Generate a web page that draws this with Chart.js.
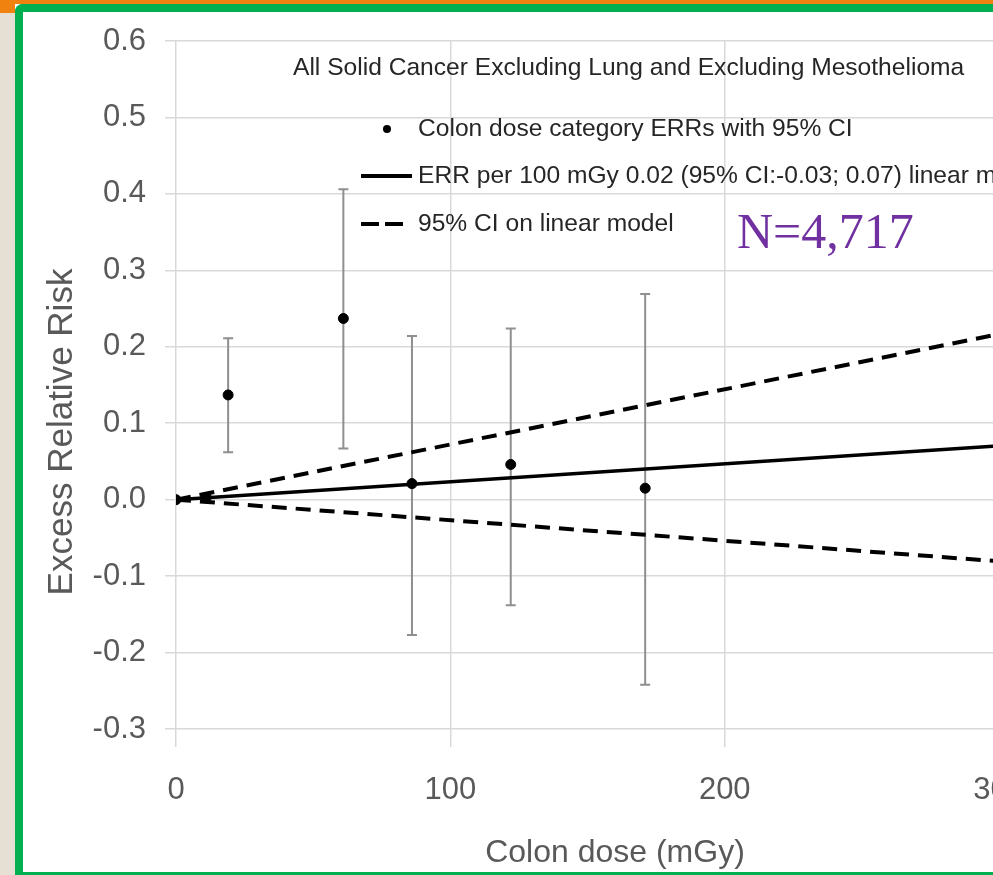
<!DOCTYPE html>
<html lang="en">
<head>
<meta charset="UTF-8">
<title>Excess Relative Risk by Colon dose</title>
<script src="https://cdn.jsdelivr.net/npm/chart.js@4.4.1/dist/chart.umd.min.js"></script>
<style>
  html, body { margin: 0; padding: 0; width: 993px; height: 875px; overflow: hidden; background: #fff; }
  #wrap { position: absolute; left: 0; top: 0; width: 1100px; height: 875px; }
  .band { position: absolute; }
</style>
</head>
<body>
<div id="wrap"><canvas id="errChart" width="1100" height="875"></canvas></div>
<!-- slide frame -->
<div class="band" style="left:0;top:0;width:15px;height:875px;background:#e6dfd4"></div>
<div class="band" style="left:0;top:0;width:993px;height:4px;background:#f0830f"></div>
<div class="band" style="left:0;top:0;width:15px;height:13px;background:#f0830f"></div>
<div class="band" style="left:15px;top:4px;width:1200px;height:860px;border-left:8px solid #00b050;border-top:8px solid #00b050;border-bottom:3px solid #00b050;border-top-left-radius:8px"></div>

<script>
// dose categories (mGy) and their ERRs with 95% CI
const doses = [0, 11, 19, 61, 86, 122, 171];
const errValues = [0, 0.003, 0.137, 0.237, 0.021, 0.046, 0.015];
const ciLower = [null, null, 0.062, 0.067, -0.177, -0.138, -0.242];
const ciUpper = [null, null, 0.211, 0.406, 0.214, 0.224, 0.269];

// linear model and its 95% CI
const modelDoses = [0, 320];
const modelErr = [0, 0.075];
const modelLower = [0, -0.086];
const modelUpper = [0, 0.231];

// axes
const yTicks = [-0.3, -0.2, -0.1, 0, 0.1, 0.2, 0.3, 0.4, 0.5, 0.6];
const xTicks = [0, 100, 200, 300];

const header = 'All Solid Cancer Excluding Lung and Excluding Mesothelioma';
const legendLabels = [
  'Colon dose category ERRs with 95% CI',
  'ERR per 100 mGy 0.02 (95% CI:-0.03; 0.07) linear model',
  '95% CI on linear model'
];
const nLabel = 'N=4,717';
const yTitle = 'Excess Relative Risk';
const xTitle = 'Colon dose (mGy)';

const sans = '"Liberation Sans", Arial, sans-serif';

function pairs(xs, ys) {
  return xs.map((v, i) => ({ x: v, y: ys[i] }));
}

// vertical CI bars with caps, under the points
const errorBars = {
  id: 'errorBars',
  beforeDatasetsDraw(chart) {
    const { ctx, scales: { x, y } } = chart;
    ctx.save();
    ctx.strokeStyle = '#8f8f8f';
    ctx.lineWidth = 2;
    doses.forEach((d, i) => {
      if (ciLower[i] == null) return;
      const px = x.getPixelForValue(d);
      const top = y.getPixelForValue(ciUpper[i]);
      const bot = y.getPixelForValue(ciLower[i]);
      ctx.beginPath();
      ctx.moveTo(px, top); ctx.lineTo(px, bot);
      ctx.moveTo(px - 5, top); ctx.lineTo(px + 5, top);
      ctx.moveTo(px - 5, bot); ctx.lineTo(px + 5, bot);
      ctx.stroke();
    });
    ctx.restore();
  }
};

// header, in-plot legend, N label and y title
const notes = {
  id: 'notes',
  afterDraw(chart) {
    const ctx = chart.ctx;
    ctx.save();
    ctx.fillStyle = '#262626';
    ctx.font = '24.6px ' + sans;
    ctx.textBaseline = 'middle';
    ctx.fillText(header, 293, 68);

    const rows = [129, 176, 224];
    legendLabels.forEach((t, i) => ctx.fillText(t, 418, rows[i]));

    ctx.fillStyle = '#000';
    ctx.beginPath();
    ctx.arc(387, rows[0], 4, 0, Math.PI * 2);
    ctx.fill();
    ctx.strokeStyle = '#000';
    ctx.lineWidth = 4;
    ctx.beginPath();
    ctx.moveTo(361, rows[1]); ctx.lineTo(412, rows[1]);
    ctx.stroke();
    ctx.setLineDash([18, 6]);
    ctx.beginPath();
    ctx.moveTo(361, rows[2]); ctx.lineTo(403, rows[2]);
    ctx.stroke();
    ctx.setLineDash([]);

    ctx.fillStyle = '#7030a0';
    ctx.font = '50px "Liberation Serif", "Times New Roman", serif';
    ctx.textBaseline = 'alphabetic';
    ctx.fillText(nLabel, 737, 248);

    ctx.translate(72, 432);
    ctx.rotate(-Math.PI / 2);
    ctx.textAlign = 'center';
    ctx.fillStyle = '#595959';
    ctx.font = '35px ' + sans;
    ctx.fillText(yTitle, 0, 0);
    ctx.restore();
  }
};

new Chart(document.getElementById('errChart'), {
  type: 'scatter',
  data: {
    datasets: [
      {
        label: legendLabels[0],
        data: pairs(doses, errValues),
        pointRadius: 5,
        backgroundColor: '#000',
        borderColor: '#000'
      },
      {
        label: legendLabels[1],
        data: pairs(modelDoses, modelErr),
        showLine: true,
        borderColor: '#000',
        borderWidth: 3.5,
        pointRadius: 0
      },
      {
        label: legendLabels[2],
        data: pairs(modelDoses, modelUpper),
        showLine: true,
        borderColor: '#000',
        borderWidth: 4,
        borderDash: [15, 9],
        pointRadius: 0
      },
      {
        label: legendLabels[2],
        data: pairs(modelDoses, modelLower),
        showLine: true,
        borderColor: '#000',
        borderWidth: 4,
        borderDash: [15, 9],
        pointRadius: 0
      }
    ]
  },
  options: {
    responsive: false,
    animation: false,
    devicePixelRatio: 1,
    layout: { padding: { top: 41, right: 46, left: 0, bottom: 0 } },
    plugins: { legend: { display: false }, tooltip: { enabled: false } },
    scales: {
      x: {
        type: 'linear',
        min: 0,
        max: 320,
        afterFit: s => { s.height = 146; },
        afterBuildTicks: s => { s.ticks = xTicks.map(v => ({ value: v })); },
        grid: { color: '#d9d9d9', lineWidth: 1.5, tickLength: 18 },
        border: { display: false },
        ticks: { color: '#595959', font: { family: sans, size: 31 }, padding: 25, maxRotation: 0 },
        title: { display: true, text: xTitle, color: '#595959', font: { family: sans, size: 32 }, padding: { top: 0, bottom: 3 } }
      },
      y: {
        type: 'linear',
        min: -0.3,
        max: 0.6,
        afterFit: s => { s.width = 176; },
        afterBuildTicks: s => { s.ticks = yTicks.map(v => ({ value: v })); },
        grid: { color: '#d9d9d9', lineWidth: 1.5, tickLength: 11 },
        border: { display: false },
        ticks: { color: '#595959', font: { family: sans, size: 31 }, padding: 19, callback: v => v.toFixed(1) }
      }
    }
  },
  plugins: [errorBars, notes]
});
</script>
</body>
</html>
